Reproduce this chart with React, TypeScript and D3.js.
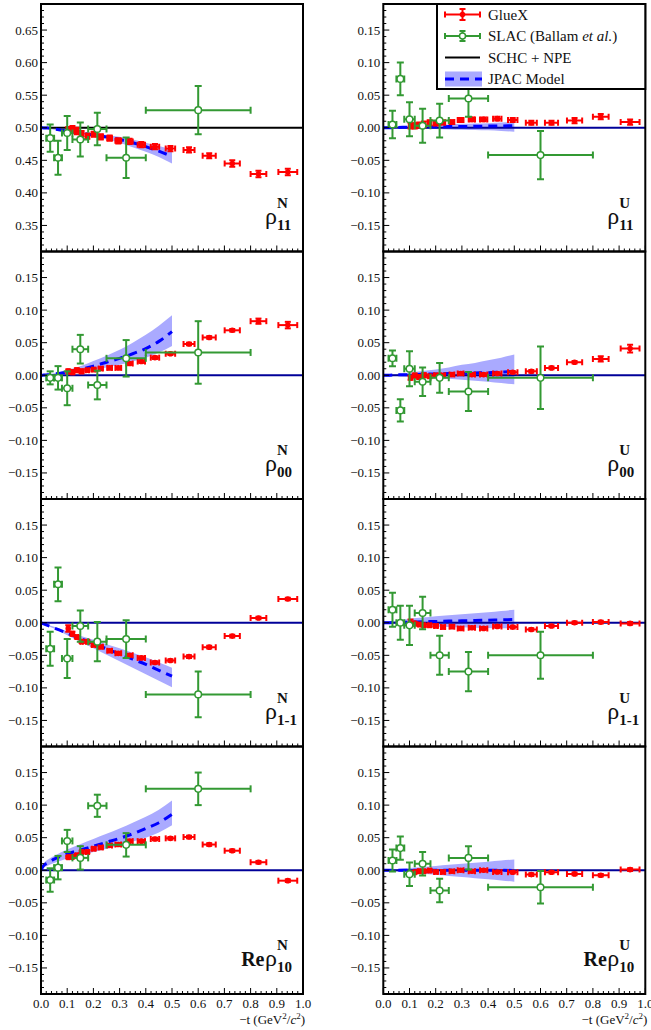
import React from 'react';
import * as d3 from 'd3';

// GlueX -t bin centres and horizontal error half-widths
const glueXT = [0.104, 0.12, 0.137, 0.155, 0.177, 0.201, 0.228, 0.262, 0.295, 0.338, 0.383, 0.435, 0.494, 0.565, 0.642, 0.73, 0.83, 0.942];
const glueXTErr = [0.004, 0.004, 0.005, 0.005, 0.006, 0.007, 0.008, 0.009, 0.011, 0.012, 0.014, 0.016, 0.018, 0.021, 0.025, 0.029, 0.03, 0.036];

// SLAC (Ballam et al.) bins
const slacT = [0.035, 0.065, 0.1, 0.15, 0.215, 0.325, 0.6];
const slacTErr = [0.015, 0.015, 0.02, 0.03, 0.035, 0.075, 0.2];

// JPAC model grid
const jpacT = [0, 0.01, 0.025, 0.05, 0.1, 0.15, 0.2, 0.25, 0.3, 0.35, 0.4, 0.45, 0.5];

// --- rho^N_11
const gxRho11N = [0.496, 0.4975, 0.495, 0.491, 0.487, 0.49, 0.486, 0.484, 0.48, 0.479, 0.474, 0.471, 0.468, 0.466, 0.457, 0.445, 0.429, 0.432];
const gxRho11NErr = [0.005, 0.005, 0.005, 0.004, 0.004, 0.004, 0.004, 0.004, 0.004, 0.004, 0.004, 0.004, 0.004, 0.004, 0.004, 0.005, 0.005, 0.005];
const slRho11N = [0.484, 0.454, 0.492, 0.482, 0.498, 0.454, 0.527];
const slRho11NErr = [0.021, 0.026, 0.026, 0.026, 0.025, 0.031, 0.037];
const jpRho11N = [0.5, 0.4998, 0.4995, 0.498, 0.495, 0.492, 0.489, 0.486, 0.482, 0.477, 0.471, 0.464, 0.456];
const jpRho11NLo = [0.5, 0.4997, 0.4992, 0.497, 0.494, 0.49, 0.486, 0.482, 0.477, 0.47, 0.463, 0.455, 0.445];
const jpRho11NHi = [0.5, 0.4999, 0.4997, 0.499, 0.497, 0.494, 0.492, 0.489, 0.486, 0.482, 0.477, 0.472, 0.467];

// --- rho^N_00
const gxRho00N = [0.006, 0.0046, 0.0077, 0.006, 0.0077, 0.0087, 0.0103, 0.0113, 0.0113, 0.018, 0.021, 0.027, 0.033, 0.048, 0.058, 0.069, 0.083, 0.077];
const gxRho00NErr = [0.003, 0.003, 0.003, 0.003, 0.002, 0.002, 0.002, 0.002, 0.002, 0.002, 0.002, 0.002, 0.002, 0.002, 0.002, 0.002, 0.004, 0.005];
const slRho00N = [-0.004, -0.004, -0.02, 0.04, -0.015, 0.026, 0.035];
const slRho00NErr = [0.01, 0.018, 0.026, 0.022, 0.022, 0.028, 0.048];
const jpRho00N = [0, 0.0003, 0.0008, 0.002, 0.005, 0.009, 0.014, 0.02, 0.026, 0.033, 0.041, 0.052, 0.067];
const jpRho00NLo = [0, 0.0002, 0.0005, 0.001, 0.003, 0.005, 0.008, 0.012, 0.016, 0.021, 0.027, 0.035, 0.045];
const jpRho00NHi = [0, 0.0005, 0.0012, 0.003, 0.008, 0.014, 0.022, 0.03, 0.039, 0.05, 0.062, 0.076, 0.092];

// --- rho^N_1-1
const gxRho1m1N = [-0.009, -0.017, -0.022, -0.029, -0.029, -0.034, -0.037, -0.043, -0.047, -0.05, -0.054, -0.061, -0.058, -0.052, -0.0375, -0.0205, 0.0072, 0.0365];
const gxRho1m1NErr = [0.005, 0.003, 0.002, 0.002, 0.002, 0.002, 0.002, 0.002, 0.002, 0.002, 0.002, 0.002, 0.002, 0.002, 0.002, 0.002, 0.002, 0.002];
const slRho1m1N = [-0.04, 0.059, -0.055, -0.005, -0.029, -0.025, -0.11];
const slRho1m1NErr = [0.026, 0.026, 0.03, 0.024, 0.03, 0.029, 0.035];
const jpRho1m1N = [0, -0.0016, -0.004, -0.008, -0.016, -0.024, -0.032, -0.04, -0.048, -0.056, -0.064, -0.073, -0.082];
const jpRho1m1NLo = [0, -0.0018, -0.0046, -0.009, -0.019, -0.029, -0.039, -0.049, -0.059, -0.069, -0.079, -0.089, -0.099];
const jpRho1m1NHi = [0, -0.0012, -0.003, -0.006, -0.013, -0.02, -0.026, -0.033, -0.039, -0.046, -0.053, -0.061, -0.069];

// --- Re rho^N_10
const gxReRho10N = [0.02, 0.0205, 0.023, 0.028, 0.028, 0.033, 0.035, 0.038, 0.0395, 0.0447, 0.0447, 0.048, 0.049, 0.051, 0.0395, 0.03, 0.0123, -0.016];
const gxReRho10NErr = [0.002, 0.002, 0.002, 0.002, 0.002, 0.002, 0.002, 0.002, 0.002, 0.002, 0.002, 0.002, 0.002, 0.002, 0.002, 0.002, 0.002, 0.002];
const slReRho10N = [-0.015, 0.004, 0.045, 0.019, 0.099, 0.039, 0.125];
const slReRho10NErr = [0.018, 0.018, 0.017, 0.018, 0.017, 0.018, 0.025];
const jpReRho10N = [0, 0.007, 0.011, 0.017, 0.025, 0.031, 0.037, 0.043, 0.049, 0.056, 0.064, 0.073, 0.086];
const jpReRho10NLo = [0, 0.004, 0.007, 0.011, 0.018, 0.023, 0.028, 0.033, 0.038, 0.044, 0.05, 0.058, 0.069];
const jpReRho10NHi = [0, 0.01, 0.016, 0.022, 0.032, 0.04, 0.048, 0.056, 0.064, 0.073, 0.082, 0.093, 0.107];

// --- rho^U_11
const gxRho11U = [0.003, 0.003, 0.004, 0.0056, 0.0077, 0.0067, 0.008, 0.0087, 0.012, 0.0128, 0.0128, 0.014, 0.012, 0.0077, 0.0077, 0.011, 0.017, 0.0087];
const gxRho11UErr = [0.004, 0.004, 0.004, 0.004, 0.004, 0.003, 0.003, 0.003, 0.003, 0.003, 0.003, 0.003, 0.003, 0.003, 0.003, 0.004, 0.004, 0.004];
const slRho11U = [0.005, 0.075, 0.013, 0.003, 0.011, 0.045, -0.042];
const slRho11UErr = [0.021, 0.025, 0.026, 0.026, 0.026, 0.028, 0.037];
const jpRho11U = [0, 0, 0.0001, 0.0003, 0.001, 0.0012, 0.0015, 0.0018, 0.002, 0.0022, 0.0025, 0.0028, 0.003];
const jpRho11ULo = [0, -0.0001, -0.0003, -0.0005, -0.001, -0.0015, -0.002, -0.0025, -0.003, -0.0035, -0.004, -0.005, -0.006];
const jpRho11UHi = [0, 0.0002, 0.0005, 0.001, 0.002, 0.003, 0.004, 0.005, 0.006, 0.0065, 0.007, 0.008, 0.009];

// --- rho^U_00
const gxRho00U = [-0.004, -0.0005, -0.0026, 0, -0.0015, 0, 0, 0.001, 0.0026, 0.001, 0.001, 0.0026, 0.0046, 0.006, 0.0113, 0.02, 0.025, 0.041];
const gxRho00UErr = [0.003, 0.003, 0.003, 0.003, 0.002, 0.002, 0.002, 0.002, 0.002, 0.002, 0.002, 0.002, 0.002, 0.002, 0.002, 0.002, 0.004, 0.006];
const slRho00U = [0.026, -0.054, 0.01, -0.01, -0.004, -0.025, -0.004];
const slRho00UErr = [0.012, 0.017, 0.027, 0.022, 0.023, 0.03, 0.048];
const jpRho00U = [0, 0, 0.0001, 0.0005, 0.001, 0.0015, 0.002, 0.0025, 0.003, 0.0035, 0.004, 0.005, 0.006];
const jpRho00ULo = [0, -0.0002, -0.0005, -0.001, -0.002, -0.003, -0.004, -0.0055, -0.007, -0.0085, -0.01, -0.012, -0.014];
const jpRho00UHi = [0, 0.0004, 0.001, 0.002, 0.004, 0.0065, 0.009, 0.012, 0.016, 0.019, 0.023, 0.027, 0.032];

// --- rho^U_1-1
const gxRho1m1U = [0, -0.001, -0.0026, -0.004, -0.004, -0.005, -0.0067, -0.006, -0.0087, -0.0077, -0.0087, -0.0056, -0.0067, -0.0103, -0.005, 0, 0.001, -0.001];
const gxRho1m1UErr = [0.005, 0.002, 0.002, 0.002, 0.002, 0.002, 0.002, 0.002, 0.002, 0.002, 0.002, 0.002, 0.002, 0.002, 0.002, 0.002, 0.002, 0.002];
const slRho1m1U = [0.02, 0, -0.004, 0.015, -0.05, -0.075, -0.05];
const slRho1m1UErr = [0.026, 0.026, 0.03, 0.025, 0.03, 0.03, 0.036];
const jpRho1m1U = [0, 0, 0.0001, 0.0005, 0.001, 0.0015, 0.002, 0.0025, 0.003, 0.0035, 0.004, 0.0045, 0.005];
const jpRho1m1ULo = [0, -0.0004, -0.001, -0.002, -0.004, -0.005, -0.006, -0.0065, -0.007, -0.0075, -0.008, -0.0085, -0.009];
const jpRho1m1UHi = [0, 0.0006, 0.0015, 0.003, 0.006, 0.008, 0.01, 0.0115, 0.013, 0.0145, 0.016, 0.018, 0.02];

// --- Re rho^U_10
const gxReRho10U = [-0.005, -0.003, -0.0015, -0.0015, -0.0005, -0.0026, -0.0026, -0.0015, 0, -0.0015, 0, -0.0026, -0.003, -0.0067, -0.003, -0.0056, -0.0077, 0.001];
const gxReRho10UErr = [0.002, 0.002, 0.002, 0.002, 0.002, 0.002, 0.002, 0.002, 0.002, 0.002, 0.002, 0.002, 0.002, 0.002, 0.002, 0.002, 0.002, 0.002];
const slReRho10U = [0.015, 0.034, -0.006, 0.01, -0.031, 0.019, -0.026];
const slReRho10UErr = [0.017, 0.018, 0.018, 0.018, 0.018, 0.018, 0.025];
const jpReRho10U = [0, 0, 0, 0, 0, 0, 0, 0, 0, 0, 0, 0, -0.0005];
const jpReRho10ULo = [0, -0.0004, -0.0009, -0.0018, -0.0035, -0.0053, -0.007, -0.0088, -0.0105, -0.0123, -0.014, -0.0158, -0.0175];
const jpReRho10UHi = [0, 0.0003, 0.0008, 0.0017, 0.0033, 0.005, 0.0066, 0.0083, 0.01, 0.0115, 0.013, 0.0148, 0.0165];

const xTickLabels = ['0.0', '0.1', '0.2', '0.3', '0.4', '0.5', '0.6', '0.7', '0.8', '0.9', '1.0'];

const RED = '#ff0000';
const GREEN = '#339933';
const BAND = '#aaaaff';
const DASH = '#0000ff';
const ZERO = '#000099';
const FONT = "'Liberation Serif','Times New Roman',Times,serif";

const colX = [[41, 303], [383.3, 645.3]];
const top0 = 4;
const rowH = 247.5;

const panels = [
  { col: 0, row: 0, re: false, sup: 'N', sub: '11', dom: [0.31, 0.69], ref: 0.5, refColor: '#000',
    gx: gxRho11N, gxErr: gxRho11NErr, sl: slRho11N, slErr: slRho11NErr, jp: jpRho11N, jpLo: jpRho11NLo, jpHi: jpRho11NHi },
  { col: 0, row: 1, re: false, sup: 'N', sub: '00', dom: [-0.19, 0.19], ref: 0, refColor: ZERO,
    gx: gxRho00N, gxErr: gxRho00NErr, sl: slRho00N, slErr: slRho00NErr, jp: jpRho00N, jpLo: jpRho00NLo, jpHi: jpRho00NHi },
  { col: 0, row: 2, re: false, sup: 'N', sub: '1-1', dom: [-0.19, 0.19], ref: 0, refColor: ZERO,
    gx: gxRho1m1N, gxErr: gxRho1m1NErr, sl: slRho1m1N, slErr: slRho1m1NErr, jp: jpRho1m1N, jpLo: jpRho1m1NLo, jpHi: jpRho1m1NHi },
  { col: 0, row: 3, re: true, sup: 'N', sub: '10', dom: [-0.19, 0.19], ref: 0, refColor: ZERO,
    gx: gxReRho10N, gxErr: gxReRho10NErr, sl: slReRho10N, slErr: slReRho10NErr, jp: jpReRho10N, jpLo: jpReRho10NLo, jpHi: jpReRho10NHi },
  { col: 1, row: 0, re: false, sup: 'U', sub: '11', dom: [-0.19, 0.19], ref: 0, refColor: ZERO,
    gx: gxRho11U, gxErr: gxRho11UErr, sl: slRho11U, slErr: slRho11UErr, jp: jpRho11U, jpLo: jpRho11ULo, jpHi: jpRho11UHi },
  { col: 1, row: 1, re: false, sup: 'U', sub: '00', dom: [-0.19, 0.19], ref: 0, refColor: ZERO,
    gx: gxRho00U, gxErr: gxRho00UErr, sl: slRho00U, slErr: slRho00UErr, jp: jpRho00U, jpLo: jpRho00ULo, jpHi: jpRho00UHi },
  { col: 1, row: 2, re: false, sup: 'U', sub: '1-1', dom: [-0.19, 0.19], ref: 0, refColor: ZERO,
    gx: gxRho1m1U, gxErr: gxRho1m1UErr, sl: slRho1m1U, slErr: slRho1m1UErr, jp: jpRho1m1U, jpLo: jpRho1m1ULo, jpHi: jpRho1m1UHi },
  { col: 1, row: 3, re: true, sup: 'U', sub: '10', dom: [-0.19, 0.19], ref: 0, refColor: ZERO,
    gx: gxReRho10U, gxErr: gxReRho10UErr, sl: slReRho10U, slErr: slReRho10UErr, jp: jpReRho10U, jpLo: jpReRho10ULo, jpHi: jpReRho10UHi },
];

const fmt = d3.format('.2f');

// point with x and y error bars and end caps
function ErrPoint({ cx, cy, xa, xb, ya, yb, color, open, r, cap }) {
  return (
    <g stroke={color} strokeWidth={2}>
      <line x1={xa} x2={xb} y1={cy} y2={cy} />
      <line x1={cx} x2={cx} y1={ya} y2={yb} />
      <line x1={xa} x2={xa} y1={cy - cap} y2={cy + cap} />
      <line x1={xb} x2={xb} y1={cy - cap} y2={cy + cap} />
      <line x1={cx - cap} x2={cx + cap} y1={ya} y2={ya} />
      <line x1={cx - cap} x2={cx + cap} y1={yb} y2={yb} />
      {open
        ? <circle cx={cx} cy={cy} r={r} fill="#fff" strokeWidth={1.5} />
        : <circle cx={cx} cy={cy} r={r} fill={color} stroke="none" />}
    </g>
  );
}

function Panel({ p }) {
  const [x0, x1] = colX[p.col];
  const yTop = top0 + p.row * rowH;
  const yBot = yTop + rowH;
  const x = d3.scaleLinear().domain([0, 1]).range([x0, x1]);
  const y = d3.scaleLinear().domain(p.dom).range([yBot, yTop]);

  const band = d3.area<number>()
    .x((d) => x(d))
    .y0((_, i) => y(p.jpLo[i]))
    .y1((_, i) => y(p.jpHi[i]))
    .curve(d3.curveMonotoneX)(jpacT);
  const model = d3.line<number>()
    .x((d) => x(d))
    .y((_, i) => y(p.jp[i]))
    .curve(d3.curveMonotoneX)(jpacT);

  // ticks: y minor every 0.01, major every 0.05; x minor every 0.02, major every 0.1
  const kLo = Math.ceil(p.dom[0] * 100 - 1e-6);
  const kHi = Math.floor(p.dom[1] * 100 + 1e-6);
  const yTicks = d3.range(kLo, kHi + 1);
  const xTicks = d3.range(0, 51);

  const xr = x1 - 38;
  const base = yBot - 28;
  const clipId = `clip${p.col}${p.row}`;

  return (
    <g>
      <defs>
        <clipPath id={clipId}>
          <rect x={x0} y={yTop} width={x1 - x0} height={rowH} />
        </clipPath>
      </defs>
      <g clipPath={`url(#${clipId})`}>
        <path d={band} fill={BAND} />
        <line x1={x0} x2={x1} y1={y(p.ref)} y2={y(p.ref)} stroke={p.refColor} strokeWidth={2} />
        <path d={model} fill="none" stroke={DASH} strokeWidth={3} strokeDasharray="9,6" />
        {p.gx.map((v, i) => (
          <ErrPoint key={'g' + i} cx={x(glueXT[i])} cy={y(v)}
            xa={x(glueXT[i] - glueXTErr[i])} xb={x(glueXT[i] + glueXTErr[i])}
            ya={y(v + p.gxErr[i])} yb={y(v - p.gxErr[i])}
            color={RED} open={false} r={2.8} cap={3} />
        ))}
        {p.sl.map((v, i) => (
          <ErrPoint key={'s' + i} cx={x(slacT[i])} cy={y(v)}
            xa={x(slacT[i] - slacTErr[i])} xb={x(slacT[i] + slacTErr[i])}
            ya={y(v + p.slErr[i])} yb={y(v - p.slErr[i])}
            color={GREEN} open={true} r={3.3} cap={3.5} />
        ))}
      </g>

      {yTicks.map((k) => {
        const major = k % 5 === 0;
        const yy = y(k / 100);
        return <line key={'yt' + k} x1={x0} x2={x0 + (major ? 6 : 3)} y1={yy} y2={yy} stroke="#000" strokeWidth={1} />;
      })}
      {xTicks.map((k) => {
        const major = k % 5 === 0;
        const xx = x(k / 50);
        return <line key={'xt' + k} x1={xx} x2={xx} y1={yBot} y2={yBot - (major ? 6 : 3)} stroke="#000" strokeWidth={1} />;
      })}
      {yTicks.filter((k) => k % 5 === 0).map((k) => (
        <text key={'yl' + k} x={x0 - 3} y={y(k / 100) + 4.5} textAnchor="end" fontSize={13} fill="#111">
          {fmt(k / 100)}
        </text>
      ))}
      {p.row === 3 && xTickLabels.map((s, i) => (
        <text key={'xl' + i} x={x(i / 10)} y={yBot + 14} textAnchor="middle" fontSize={13} fill="#111">{s}</text>
      ))}
      {p.row === 3 && (
        <text x={x1 + 2} y={yBot + 30} textAnchor="end" fontSize={13} fill="#111">
          −t (GeV<tspan fontSize={9} dy={-5}>2</tspan><tspan dy={5}>/</tspan><tspan fontStyle="italic">c</tspan><tspan fontSize={9} dy={-5}>2</tspan><tspan dy={5}>)</tspan>
        </text>
      )}

      <rect x={x0} y={yTop} width={x1 - x0} height={rowH} fill="none" stroke="#000" strokeWidth={2} />

      {p.re && <text x={xr - 0.5} y={base} textAnchor="end" fontSize={20} fontWeight="bold" fill="#111">Re</text>}
      <text x={xr} y={base} fontSize={24} fill="#111">ρ</text>
      <text x={xr + 12} y={base - 16} fontSize={15} fontWeight="bold" fill="#111">{p.sup}</text>
      <text x={xr + 12} y={base + 6} fontSize={15} fontWeight="bold" fill="#111">{p.sub}</text>
    </g>
  );
}

function Legend() {
  const lx = 437, ly = 4, lw = 208.3, lh = 85;
  const sx0 = 445, sx1 = 480, sc = 462.5, tx = 488;
  const rows = [14.5, 36, 57.5, 79];
  return (
    <g>
      <rect x={lx} y={ly} width={lw} height={lh} fill="#fff" stroke="#000" strokeWidth={2} />
      <ErrPoint cx={sc} cy={rows[0]} xa={sx0} xb={sx1} ya={rows[0] - 5.5} yb={rows[0] + 5.5}
        color={RED} open={false} r={2.8} cap={3} />
      <ErrPoint cx={sc} cy={rows[1]} xa={sx0} xb={sx1} ya={rows[1] - 5} yb={rows[1] + 5}
        color={GREEN} open={true} r={3} cap={3} />
      <line x1={sx0} x2={sx1} y1={rows[2]} y2={rows[2]} stroke="#000" strokeWidth={2} />
      <rect x={sx0} y={rows[3] - 7.5} width={37} height={15} fill={BAND} />
      <line x1={sx0} x2={sx1 + 2} y1={rows[3]} y2={rows[3]} stroke={DASH} strokeWidth={3} strokeDasharray="9,6" />
      <text x={tx} y={rows[0] + 5} fontSize={15} fill="#111">GlueX</text>
      <text x={tx} y={rows[1] + 5} fontSize={15} fill="#111">SLAC (Ballam <tspan fontStyle="italic">et al.</tspan>)</text>
      <text x={tx} y={rows[2] + 5} fontSize={15} fill="#111">SCHC + NPE</text>
      <text x={tx} y={rows[3] + 5} fontSize={15} fill="#111">JPAC Model</text>
    </g>
  );
}

export default function App() {
  return (
    <svg width={651} height={1030} fontFamily={FONT}
      style={{ position: 'absolute', left: 0, top: 0, background: '#fff', display: 'block' }}>
      {panels.map((p, i) => <Panel key={i} p={p} />)}
      <Legend />
    </svg>
  );
}
